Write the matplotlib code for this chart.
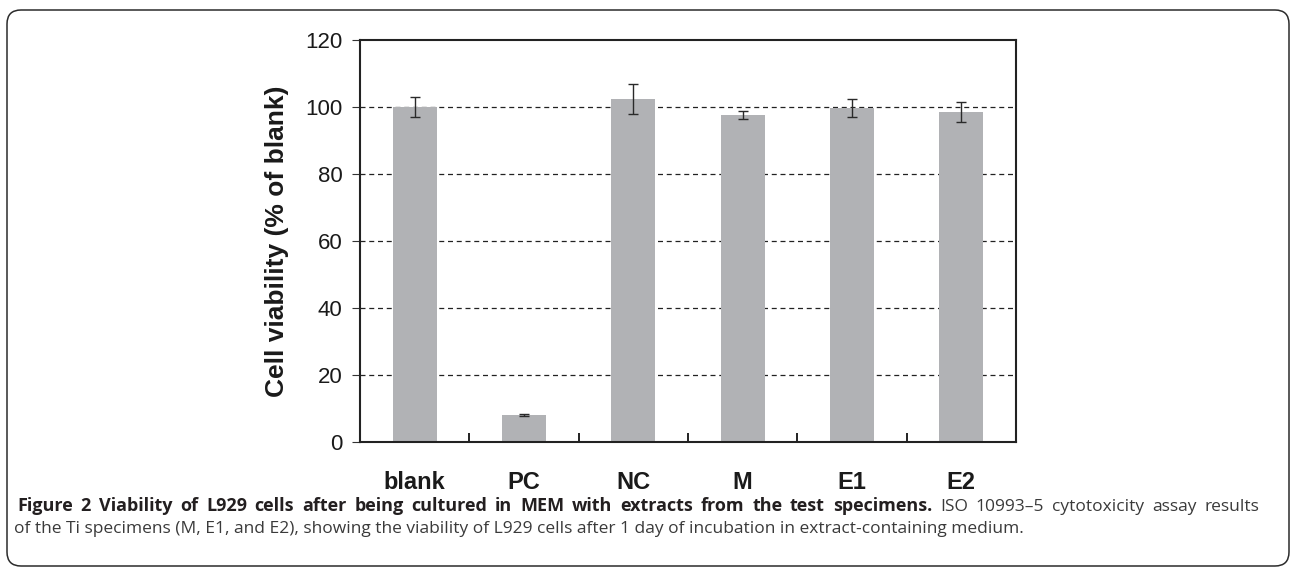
import numpy as np
import matplotlib
matplotlib.use("Agg")
import matplotlib.pyplot as plt
from matplotlib.patches import FancyBboxPatch

# cytotoxicity (ISO 10993-5) viability values, % of blank
groups = ["blank", "PC", "NC", "M", "E1", "E2"]
viability = [100.0, 8.1, 102.4, 97.6, 99.8, 98.5]
viability_sd = [3.0, 0.3, 4.4, 1.2, 2.7, 2.9]
y_ticks = [0, 20, 40, 60, 80, 100, 120]

caption_bold = "Figure 2 Viability of L929 cells after being cultured in MEM with extracts from the test specimens."
caption_rest = "ISO 10993\u20135 cytotoxicity assay results"
caption_line2 = ("of the Ti specimens (M, E1, and E2), showing the viability of L929 cells "
                 "after 1 day of incubation in extract-containing medium.")

W, H = 1292, 568
fig = plt.figure(figsize=(W / 100, H / 100), dpi=100)
fig.patch.set_facecolor("white")

# outer rounded frame around figure + caption
frame = FancyBboxPatch((0.07, 0.02), 12.82, 5.56,
                       boxstyle="round,pad=0,rounding_size=0.14",
                       transform=fig.dpi_scale_trans, fill=False,
                       edgecolor="#2b2b2b", linewidth=1.1, zorder=0)
fig.patches.append(frame)

ax = fig.add_axes([360 / W, 1 - 442 / H, (1016 - 360) / W, (442 - 40) / H])

x = np.arange(len(groups))
ax.bar(x, viability, width=0.4, color="#b1b2b5", zorder=2)
ax.errorbar(x, viability, yerr=viability_sd, fmt="none", ecolor="#2a2a2a",
            elinewidth=1.0, capsize=3.6, capthick=1.0, zorder=3)

ax.set_xlim(-0.5, len(groups) - 0.5)
ax.set_ylim(0, 120)
ax.set_yticks(y_ticks)
ax.set_yticklabels([str(v) for v in y_ticks], fontsize=16,
                   family="Liberation Sans", color="#1a1a1a")
ax.tick_params(axis="y", direction="out", length=5.5, width=0.8, pad=7,
               color="#333333")

ax.set_xticks(x)
ax.set_xticklabels(groups, fontsize=17, fontweight="bold",
                   family="Liberation Sans", color="#1a1a1a")
ax.tick_params(axis="x", which="major", length=0, pad=21)
ax.set_xticks(x[:-1] + 0.5, minor=True)
ax.tick_params(axis="x", which="minor", direction="in", length=6.5,
               width=1.4, color="#222222")

ax.set_ylabel("Cell viability (% of blank)", fontsize=19, fontweight="bold",
              family="Liberation Sans", color="#1a1a1a", labelpad=12)

for y in y_ticks[1:-1]:
    ax.axhline(y, color="#222222", linestyle=(0, (4, 3)), linewidth=0.9, zorder=1)

for side in ["left", "bottom", "top", "right"]:
    ax.spines[side].set_linewidth(1.5)
    ax.spines[side].set_color("#222222")

# caption, first line justified between x0 and x1 (pixels), baseline aligned
cap_font = "Open Sans"
cap_size = 12.5
bold_size = 13.0
x0, x1 = 17, 1259
base1, base2 = 511, 533
words = [(w, "bold", bold_size, "#231f20") for w in caption_bold.split()] + \
        [(w, "normal", cap_size, "#3a3a3a") for w in caption_rest.split()]
texts = [fig.text(0, 1 - base1 / H, w, fontsize=s, fontweight=wt,
                  family=cap_font, color=c, va="baseline", ha="left")
         for w, wt, s, c in words]
fig.canvas.draw()
r = fig.canvas.get_renderer()
widths = [t.get_window_extent(r).width for t in texts]
gap = (x1 - x0 - sum(widths)) / (len(texts) - 1)
pos = x0
for t, w in zip(texts, widths):
    t.set_x(pos / W)
    pos += w + gap

fig.text(14 / W, 1 - base2 / H, caption_line2, fontsize=cap_size,
         family=cap_font, color="#3a3a3a", va="baseline", ha="left")

fig.savefig("out.png", dpi=100)
